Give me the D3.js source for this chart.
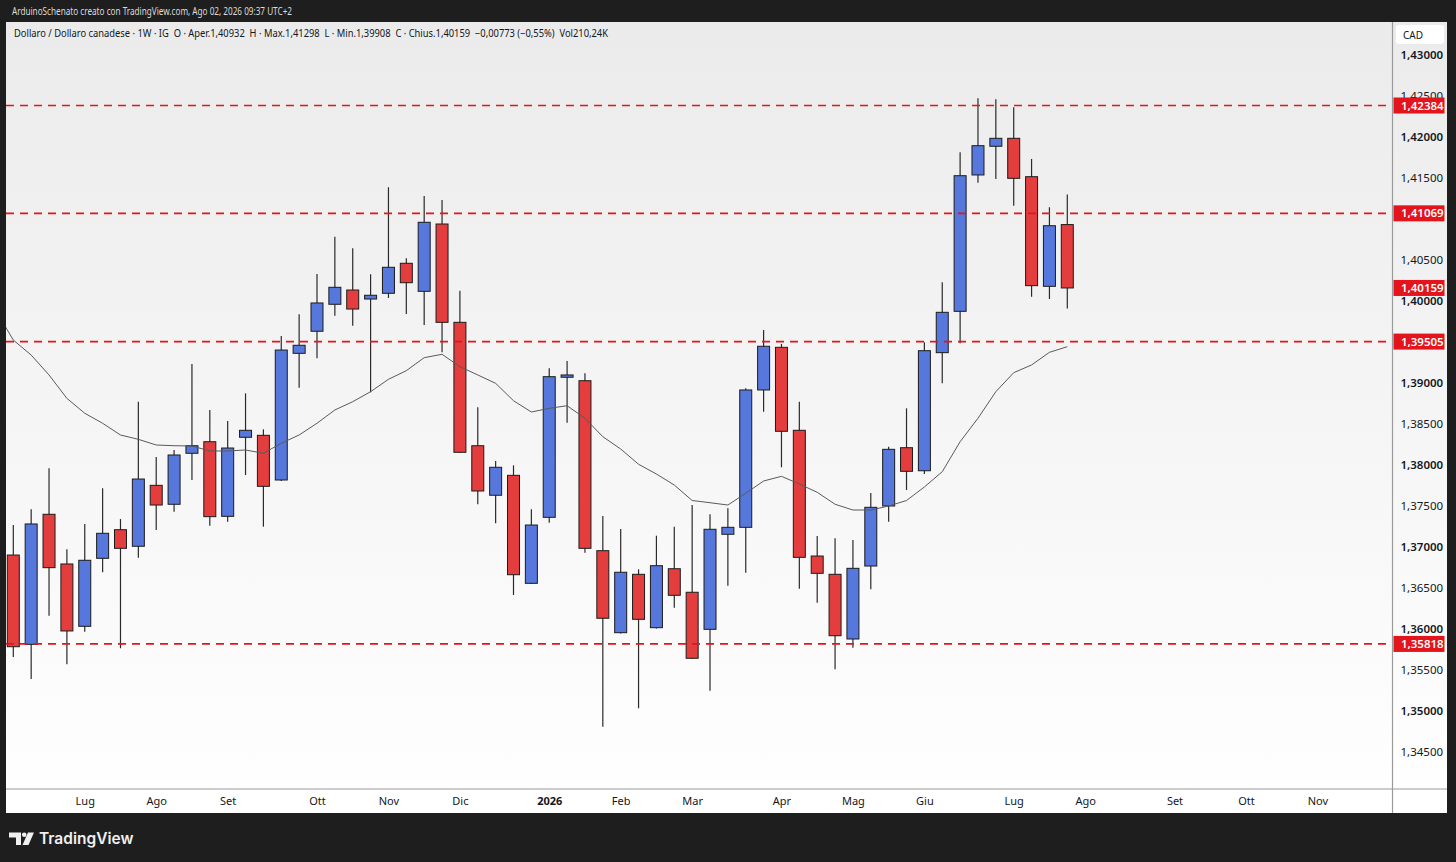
<!DOCTYPE html>
<html>
<head>
<meta charset="utf-8">
<script src="https://cdn.jsdelivr.net/npm/d3@7"></script>
<style>
  body { margin: 0; background: #1e1e1e; }
  svg { display: block; font-family: "Noto Sans", "Open Sans", sans-serif; }
</style>
</head>
<body>
<div id="chart"></div>
<script>
// USD/CAD weekly bars, first bar = week of 9 Jun 2025
var firstWeek = "2025-06-09";

var opens = [1.36902, 1.35813, 1.37399, 1.36793, 1.36033, 1.36862, 1.37211, 1.37009, 1.37752, 1.37521,
             1.38143, 1.38284, 1.37374, 1.38338, 1.38362, 1.37817, 1.39362, 1.39631, 1.39960, 1.40134,
             1.40024, 1.40094, 1.40460, 1.40118, 1.40939, 1.39740, 1.38235, 1.37631, 1.37874, 1.36557,
             1.37362, 1.39070, 1.39028, 1.36955, 1.35955, 1.36667, 1.36016, 1.36735, 1.36448, 1.35996,
             1.37155, 1.37240, 1.38915, 1.39435, 1.38423, 1.36890, 1.36667, 1.35878, 1.36768, 1.37500,
             1.38211, 1.37930, 1.39370, 1.39874, 1.41537, 1.41887, 1.41984, 1.41516, 1.40179, 1.40932];

var highs = [1.37268, 1.37460, 1.37960, 1.36972, 1.37281, 1.37716, 1.37341, 1.38772, 1.38098, 1.38183,
             1.39232, 1.38671, 1.38537, 1.38874, 1.38435, 1.39573, 1.39838, 1.40329, 1.40784, 1.40643,
             1.40326, 1.41387, 1.40521, 1.41280, 1.41232, 1.40126, 1.38704, 1.38049, 1.37996, 1.37460,
             1.39179, 1.39268, 1.39118, 1.37378, 1.37220, 1.36728, 1.37138, 1.37248, 1.37512, 1.37399,
             1.37472, 1.38935, 1.39646, 1.39476, 1.38772, 1.37134, 1.37106, 1.37085, 1.37659, 1.38223,
             1.38691, 1.39496, 1.40228, 1.41813, 1.42472, 1.42460, 1.42362, 1.41732, 1.41143, 1.41298];

var lows = [1.35659, 1.35390, 1.36162, 1.35570, 1.35967, 1.36692, 1.35765, 1.36870, 1.37207, 1.37431,
            1.37817, 1.37260, 1.37309, 1.37878, 1.37248, 1.37805, 1.38943, 1.39301, 1.39821, 1.39699,
            1.38887, 1.40037, 1.39841, 1.39707, 1.39374, 1.38146, 1.37521, 1.37289, 1.36415, 1.36549,
            1.37296, 1.38516, 1.36931, 1.34809, 1.35945, 1.35033, 1.36006, 1.36260, 1.35634, 1.35248,
            1.36528, 1.36687, 1.38650, 1.37972, 1.36491, 1.36321, 1.35509, 1.35772, 1.36484, 1.37309,
            1.37695, 1.37890, 1.38996, 1.39484, 1.41443, 1.41488, 1.41162, 1.40052, 1.40024, 1.39908];

var closes = [1.35784, 1.37281, 1.36748, 1.35976, 1.36838, 1.37167, 1.36984, 1.37829, 1.37512, 1.38122,
              1.38235, 1.37370, 1.38207, 1.38423, 1.37740, 1.39402, 1.39460, 1.39976, 1.40167, 1.39902,
              1.40070, 1.40411, 1.40223, 1.40960, 1.39740, 1.38155, 1.37683, 1.37972, 1.36662, 1.37268,
              1.39077, 1.39098, 1.36984, 1.36131, 1.36692, 1.36118, 1.36772, 1.36411, 1.35643, 1.37216,
              1.37240, 1.38915, 1.39448, 1.38411, 1.36874, 1.36679, 1.35918, 1.36740, 1.37484, 1.38191,
              1.37923, 1.39394, 1.39862, 1.41528, 1.41894, 1.41984, 1.41496, 1.40187, 1.40918, 1.40159];

// thin moving average, one value per week starting one week before the first bar
var maStart = "2025-06-02";
var maValues = [1.39890, 1.39524, 1.39341, 1.39098, 1.38813, 1.38631, 1.38509, 1.38366, 1.38313, 1.38244,
                1.38235, 1.38232, 1.38171, 1.38171, 1.38183, 1.38143, 1.38265, 1.38366, 1.38509, 1.38671,
                1.38772, 1.38894, 1.39045, 1.39150, 1.39309, 1.39350, 1.39199, 1.39098, 1.38996, 1.38784,
                1.38646, 1.38691, 1.38723, 1.38570, 1.38345, 1.38195, 1.38009, 1.37890, 1.37756, 1.37567,
                1.37540, 1.37512, 1.37655, 1.37805, 1.37862, 1.37768, 1.37667, 1.37521, 1.37451, 1.37451,
                1.37500, 1.37567, 1.37732, 1.37918, 1.38284, 1.38570, 1.38894, 1.39126, 1.39220, 1.39374,
                1.39443];

// horizontal levels (dashed) and last price
var levels = [1.42384, 1.41069, 1.39505, 1.35818];
var lastPrice = 1.40159;

// 1,41000 sits under the 1,41069 tag in the original, so it is left out
var yTicks = [1.345, 1.350, 1.355, 1.360, 1.365, 1.370, 1.375, 1.380, 1.385,
              1.390, 1.395, 1.400, 1.405, 1.415, 1.420, 1.425, 1.430];

var monthTicks = ["2025-07-07", "2025-08-04", "2025-09-01", "2025-10-06", "2025-11-03", "2025-12-01",
                  "2026-01-05", "2026-02-02", "2026-03-02", "2026-04-06", "2026-05-04", "2026-06-01",
                  "2026-07-06", "2026-08-03", "2026-09-07", "2026-10-05", "2026-11-02"];
var monthLabels = ["Lug", "Ago", "Set", "Ott", "Nov", "Dic", "2026", "Feb", "Mar", "Apr", "Mag", "Giu",
                   "Lug", "Ago", "Set", "Ott", "Nov"];

var upColor = "#5677dc",
    downColor = "#e43d3d",
    levelColor = "#e3141b";

var parseDate = d3.timeParse("%Y-%m-%d");
var fmt = function (v) { return d3.format(".5f")(v).replace(".", ","); };

var bars = opens.map(function (o, i) {
    return {
        date: d3.timeWeek.offset(parseDate(firstWeek), i),
        open: o, high: highs[i], low: lows[i], close: closes[i]
    };
});
var ma = maValues.map(function (v, i) {
    return { date: d3.timeWeek.offset(parseDate(maStart), i), value: v };
});

var svg = d3.select("#chart")
    .append("svg")
    .attr("width", 1456)
    .attr("height", 862);

var panel = { left: 6, top: 22, right: 1447, bottom: 813 },
    plotRight = 1392.5,
    axisY = 789;

var x = d3.scaleTime()
    .domain([bars[0].date, bars[bars.length - 1].date])
    .range([13.3, 1067.3]);

var y = d3.scaleLinear()
    .domain([1.345, 1.43])
    .range([752, 55]);

var defs = svg.append("defs");
var grad = defs.append("linearGradient")
    .attr("id", "bg").attr("x1", 0).attr("y1", 0).attr("x2", 0).attr("y2", 1);
grad.append("stop").attr("offset", "0%").attr("stop-color", "#ebebeb");
grad.append("stop").attr("offset", "100%").attr("stop-color", "#ffffff");

defs.append("clipPath").attr("id", "plotClip")
    .append("rect")
    .attr("x", panel.left)
    .attr("y", panel.top)
    .attr("width", plotRight - panel.left)
    .attr("height", axisY - panel.top);

// header above the panel
svg.append("text")
    .attr("x", 12)
    .attr("y", 15)
    .attr("fill", "#dcdcdc")
    .style("font-size", "10.5px")
    .attr("textLength", 280)
    .attr("lengthAdjust", "spacingAndGlyphs")
    .text("ArduinoSchenato creato con TradingView.com, Ago 02, 2026 09:37 UTC+2");

// panel background
svg.append("rect")
    .attr("x", panel.left)
    .attr("y", panel.top)
    .attr("width", panel.right - panel.left)
    .attr("height", panel.bottom - panel.top)
    .attr("fill", "url(#bg)");

svg.append("rect")
    .attr("x", panel.left)
    .attr("y", axisY)
    .attr("width", panel.right - panel.left)
    .attr("height", panel.bottom - axisY)
    .attr("fill", "#ffffff");

var last = bars[bars.length - 1];
svg.append("text")
    .attr("x", 14)
    .attr("y", 37)
    .attr("fill", "#131722")
    .style("font-size", "10.5px")
    .style("white-space", "pre")
    .attr("textLength", 594)
    .attr("lengthAdjust", "spacingAndGlyphs")
    .text("Dollaro / Dollaro canadese · 1W · IG  O · Aper." + fmt(last.open) +
          "  H · Max." + fmt(last.high) + "  L · Min." + fmt(last.low) +
          "  C · Chius." + fmt(last.close) + "  −0,00773 (−0,55%)  Vol210,24K");

var plot = svg.append("g").attr("clip-path", "url(#plotClip)");

// candles
var candle = plot.selectAll(".candle")
    .data(bars)
    .enter().append("g")
    .attr("class", "candle");

var bodyW = 12;

candle.append("line")
    .attr("x1", function (d) { return x(d.date); })
    .attr("x2", function (d) { return x(d.date); })
    .attr("y1", function (d) { return y(d.high); })
    .attr("y2", function (d) { return y(d.low); })
    .attr("stroke", "#2a2a2a")
    .attr("stroke-width", 1.2);

candle.append("rect")
    .attr("x", function (d) { return x(d.date) - bodyW / 2; })
    .attr("y", function (d) { return y(Math.max(d.open, d.close)); })
    .attr("width", bodyW)
    .attr("height", function (d) { return Math.max(1, Math.abs(y(d.open) - y(d.close))); })
    .attr("fill", function (d) { return d.close >= d.open ? upColor : downColor; })
    .attr("stroke", "#1c1c1c")
    .attr("stroke-width", 1);

// moving average
var line = d3.line()
    .x(function (d) { return x(d.date); })
    .y(function (d) { return y(d.value); });

plot.append("path")
    .datum(ma)
    .attr("d", line)
    .attr("fill", "none")
    .attr("stroke", "#5a5a5a")
    .attr("stroke-width", 1);

// dashed levels
svg.selectAll(".level")
    .data(levels)
    .enter().append("line")
    .attr("class", "level")
    .attr("x1", panel.left)
    .attr("x2", plotRight)
    .attr("y1", function (d) { return y(d); })
    .attr("y2", function (d) { return y(d); })
    .attr("stroke", levelColor)
    .attr("stroke-width", 1.6)
    .attr("stroke-dasharray", "8,6");

// price axis
var yAxis = d3.axisRight(y)
    .tickValues(yTicks)
    .tickSize(0)
    .tickPadding(8)
    .tickFormat(fmt);

var yg = svg.append("g")
    .attr("transform", "translate(" + plotRight + ",0)")
    .call(yAxis);
yg.select(".domain").remove();
yg.selectAll("text")
    .attr("fill", "#131722")
    .style("font-size", "11.5px")
    .style("font-family", "'Noto Sans', sans-serif")
    .style("font-weight", function (d) { return Math.round(d * 1000) % 10 === 0 ? 600 : 400; });

// time axis
var xAxis = d3.axisBottom(x)
    .tickValues(monthTicks.map(parseDate))
    .tickSize(0)
    .tickPadding(8)
    .tickFormat(function (d, i) { return monthLabels[i]; });

var xg = svg.append("g")
    .attr("transform", "translate(0," + axisY + ")")
    .call(xAxis);
xg.select(".domain").remove();
xg.selectAll("text")
    .attr("fill", "#131722")
    .style("font-size", "11px")
    .style("font-family", "'Noto Sans', sans-serif")
    .style("font-weight", function (d, i) { return monthLabels[i] === "2026" ? 700 : 400; });

// divider lines
svg.append("line")
    .attr("x1", plotRight).attr("x2", plotRight)
    .attr("y1", panel.top).attr("y2", panel.bottom)
    .attr("stroke", "#9a9a9a").attr("stroke-width", 1.2);
svg.append("line")
    .attr("x1", panel.left).attr("x2", panel.right)
    .attr("y1", axisY).attr("y2", axisY)
    .attr("stroke", "#9a9a9a").attr("stroke-width", 1.2);

// price labels
var tags = svg.selectAll(".tag")
    .data(levels.concat([lastPrice]))
    .enter().append("g")
    .attr("class", "tag")
    .attr("transform", function (d) { return "translate(" + (plotRight + 1) + "," + y(d) + ")"; });

tags.append("rect")
    .attr("x", 0)
    .attr("y", -8)
    .attr("width", 51)
    .attr("height", 16)
    .attr("fill", levelColor);

tags.append("text")
    .attr("x", 7.5)
    .attr("y", 0)
    .attr("dy", "0.35em")
    .attr("fill", "#ffffff")
    .style("font-size", "11.5px")
    .style("font-weight", 600)
    .text(fmt);

// currency box
svg.append("rect")
    .attr("x", 1396).attr("y", 25)
    .attr("width", 48).attr("height", 19)
    .attr("rx", 3)
    .attr("fill", "#ffffff");
svg.append("text")
    .attr("x", 1403).attr("y", 38.5)
    .attr("fill", "#131722")
    .style("font-size", "10px")
    .text("CAD");

// TradingView logo
var logo = svg.append("g").attr("fill", "#f0f0f0");
logo.append("path").attr("d", "M9,832.5 H21 V845 H16 V837.5 H9 Z");
logo.append("circle").attr("cx", 24.2).attr("cy", 834.8).attr("r", 2.3);
logo.append("path").attr("d", "M28,832.5 H34 L28.5,845 H22.5 Z");
logo.append("text")
    .attr("x", 39)
    .attr("y", 844)
    .style("font-family", "Inter, 'Noto Sans', sans-serif")
    .style("font-size", "15.5px")
    .style("font-weight", 600)
    .text("TradingView");
</script>
</body>
</html>
